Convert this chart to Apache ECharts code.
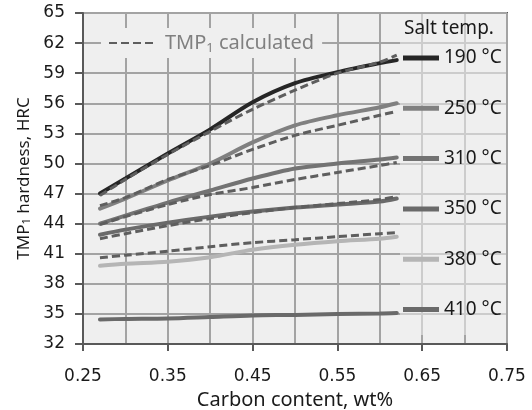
<!DOCTYPE html>
<html>
<head>
<meta charset="utf-8">
<script src="https://cdn.jsdelivr.net/npm/echarts@6/dist/echarts.min.js"></script>
<style>
  html, body { margin: 0; padding: 0; background: #ffffff; }
  #hardness { width: 532px; height: 410px; }
</style>
</head>
<body>
<div id="hardness"></div>
<script>
// carbon content, wt%
const carbon = [0.27, 0.30, 0.35, 0.40, 0.45, 0.50, 0.55, 0.60, 0.62];
const xTickLabels = [0.25, 0.35, 0.45, 0.55, 0.65, 0.75];
const yTickLabels = [32, 35, 38, 41, 44, 47, 50, 53, 56, 59, 62, 65];

// measured TMP1 hardness (solid)
const meas190 = [47.0, 48.5, 51.0, 53.4, 56.1, 58.0, 59.1, 60.0, 60.3];
const meas250 = [45.5, 46.5, 48.3, 50.0, 52.1, 53.8, 54.8, 55.6, 56.0];
const meas310 = [44.0, 44.8, 46.1, 47.3, 48.5, 49.5, 50.0, 50.4, 50.6];
const meas350 = [42.9, 43.4, 44.1, 44.7, 45.2, 45.6, 45.9, 46.2, 46.5];
const meas380 = [39.8, 40.0, 40.2, 40.65, 41.4, 41.9, 42.25, 42.5, 42.7];
const meas410 = [34.45, 34.5, 34.55, 34.7, 34.85, 34.9, 35.0, 35.05, 35.1];

// calculated TMP1 hardness (dashed)
const calc190 = [46.8, 48.4, 50.9, 53.2, 55.4, 57.3, 59.0, 60.1, 60.8];
const calc250 = [45.8, 46.6, 48.4, 49.8, 51.4, 52.8, 53.8, 54.8, 55.2];
const calc310 = [43.9, 44.7, 45.9, 46.9, 47.6, 48.4, 49.1, 49.8, 50.1];
const calc350 = [42.5, 43.0, 43.8, 44.5, 45.1, 45.6, 46.0, 46.4, 46.7];
const calc380 = [40.6, 40.85, 41.25, 41.7, 42.1, 42.4, 42.7, 43.0, 43.1];

const tempNames = ["190 °C", "250 °C", "310 °C", "350 °C", "380 °C", "410 °C"];
const tempColors = ["#262626", "#808080", "#737373", "#6a6a6a", "#b5b5b5", "#6a6a6a"];
const measured = [meas190, meas250, meas310, meas350, meas380, meas410];
const calculated = [calc190, calc250, calc310, calc350, calc380];
const calcName = "TMP1 calculated";

function pairs(ys) {
  return carbon.map((x, i) => [x, ys[i]]);
}

const series = [];
measured.forEach((ys, i) => {
  series.push({
    name: tempNames[i],
    type: "line",
    smooth: 0.3,
    symbol: "none",
    data: pairs(ys),
    itemStyle: { color: tempColors[i] },
    lineStyle: { width: 4, color: tempColors[i], cap: "round" },
    z: 2,
  });
});
calculated.forEach((ys) => {
  series.push({
    name: calcName,
    type: "line",
    smooth: 0.3,
    symbol: "none",
    data: pairs(ys),
    itemStyle: { color: "#5e5e5e" },
    lineStyle: { width: 3, color: "#5e5e5e", type: [8, 4] },
    z: 3,
  });
});

const chart = echarts.init(document.getElementById("hardness"));
chart.setOption({
  animation: false,
  textStyle: { fontFamily: "Noto Sans" },
  title: {
    text: "Salt temp.",
    left: 404,
    top: 19,
    padding: 0,
    textStyle: { fontFamily: "Noto Sans", fontSize: 19, fontWeight: "normal", color: "#1a1a1a" },
  },
  grid: {
    left: 83,
    right: 25,
    top: 13,
    bottom: 66,
    outerBoundsMode: "none",
    containLabel: false,
    show: true,
    backgroundColor: "#efefef",
    borderColor: "#595959",
    borderWidth: 2,
  },
  legend: [
    {
      data: tempNames,
      orient: "vertical",
      left: 403,
      top: 46,
      padding: 0,
      icon: "rect",
      itemWidth: 36,
      itemHeight: 5,
      itemGap: 26.3,
      selectedMode: false,
      textStyle: { fontFamily: "Noto Sans", fontSize: 19, lineHeight: 24, color: "#1a1a1a" },
    },
    {
      data: [calcName],
      left: 101,
      top: 28,
      padding: [3, 8, 3, 7],
      backgroundColor: "#efefef",
      itemWidth: 45,
      itemHeight: 24,
      selectedMode: false,
      itemStyle: { opacity: 0, borderWidth: 0 },
      formatter: () => "TMP{s|1} calculated",
      textStyle: {
        fontFamily: "Noto Sans",
        fontSize: 20,
        lineHeight: 24,
        color: "#808080",
        padding: [0, 0, 0, 6],
        rich: {
          s: { fontFamily: "Noto Sans", fontSize: 13, lineHeight: 12, verticalAlign: "bottom", color: "#808080" },
        },
      },
    },
  ],
  graphic: [
    {
      // the legend box lightens the grid behind it
      type: "rect",
      shape: { x: 400, y: 14, width: 106, height: 321 },
      style: { fill: "rgba(239,239,239,0.55)" },
      z: 1,
      silent: true,
    },
  ],
  xAxis: {
    type: "value",
    min: 0.25,
    max: 0.75,
    interval: 0.1,
    name: "Carbon content, wt%",
    nameLocation: "middle",
    nameGap: 44,
    nameTextStyle: { fontFamily: "Noto Sans", fontSize: 20, color: "#1a1a1a" },
    axisLine: { show: true, onZero: false, lineStyle: { color: "#595959", width: 2 } },
    axisTick: { show: true, length: 7, lineStyle: { color: "#595959", width: 2 } },
    axisLabel: {
      margin: 24,
      fontFamily: "DejaVu Sans",
      fontSize: 17,
      color: "#1a1a1a",
      customValues: xTickLabels,
    },
    splitLine: { show: true, lineStyle: { color: "#a3a3a3", width: 2 } },
    minorTick: { show: false, splitNumber: 2 },
    minorSplitLine: { show: true, lineStyle: { color: "#a3a3a3", width: 2 } },
  },
  yAxis: {
    type: "value",
    min: 32,
    max: 65,
    interval: 3,
    name: "TMP{s|1} hardness, HRC",
    nameLocation: "middle",
    nameGap: 48,
    nameTextStyle: {
      fontFamily: "Noto Sans",
      fontSize: 17,
      color: "#1a1a1a",
      rich: {
        s: { fontFamily: "Noto Sans", fontSize: 11, lineHeight: 10, verticalAlign: "bottom", color: "#1a1a1a" },
      },
    },
    axisLine: { show: true, lineStyle: { color: "#595959", width: 2 } },
    axisTick: { show: true, length: 8, lineStyle: { color: "#595959", width: 2 } },
    axisLabel: {
      margin: 18,
      fontFamily: "DejaVu Sans",
      fontSize: 17,
      color: "#1a1a1a",
      customValues: yTickLabels,
    },
    splitLine: { show: true, lineStyle: { color: "#a3a3a3", width: 2 } },
  },
  series: series,
});
</script>
</body>
</html>
